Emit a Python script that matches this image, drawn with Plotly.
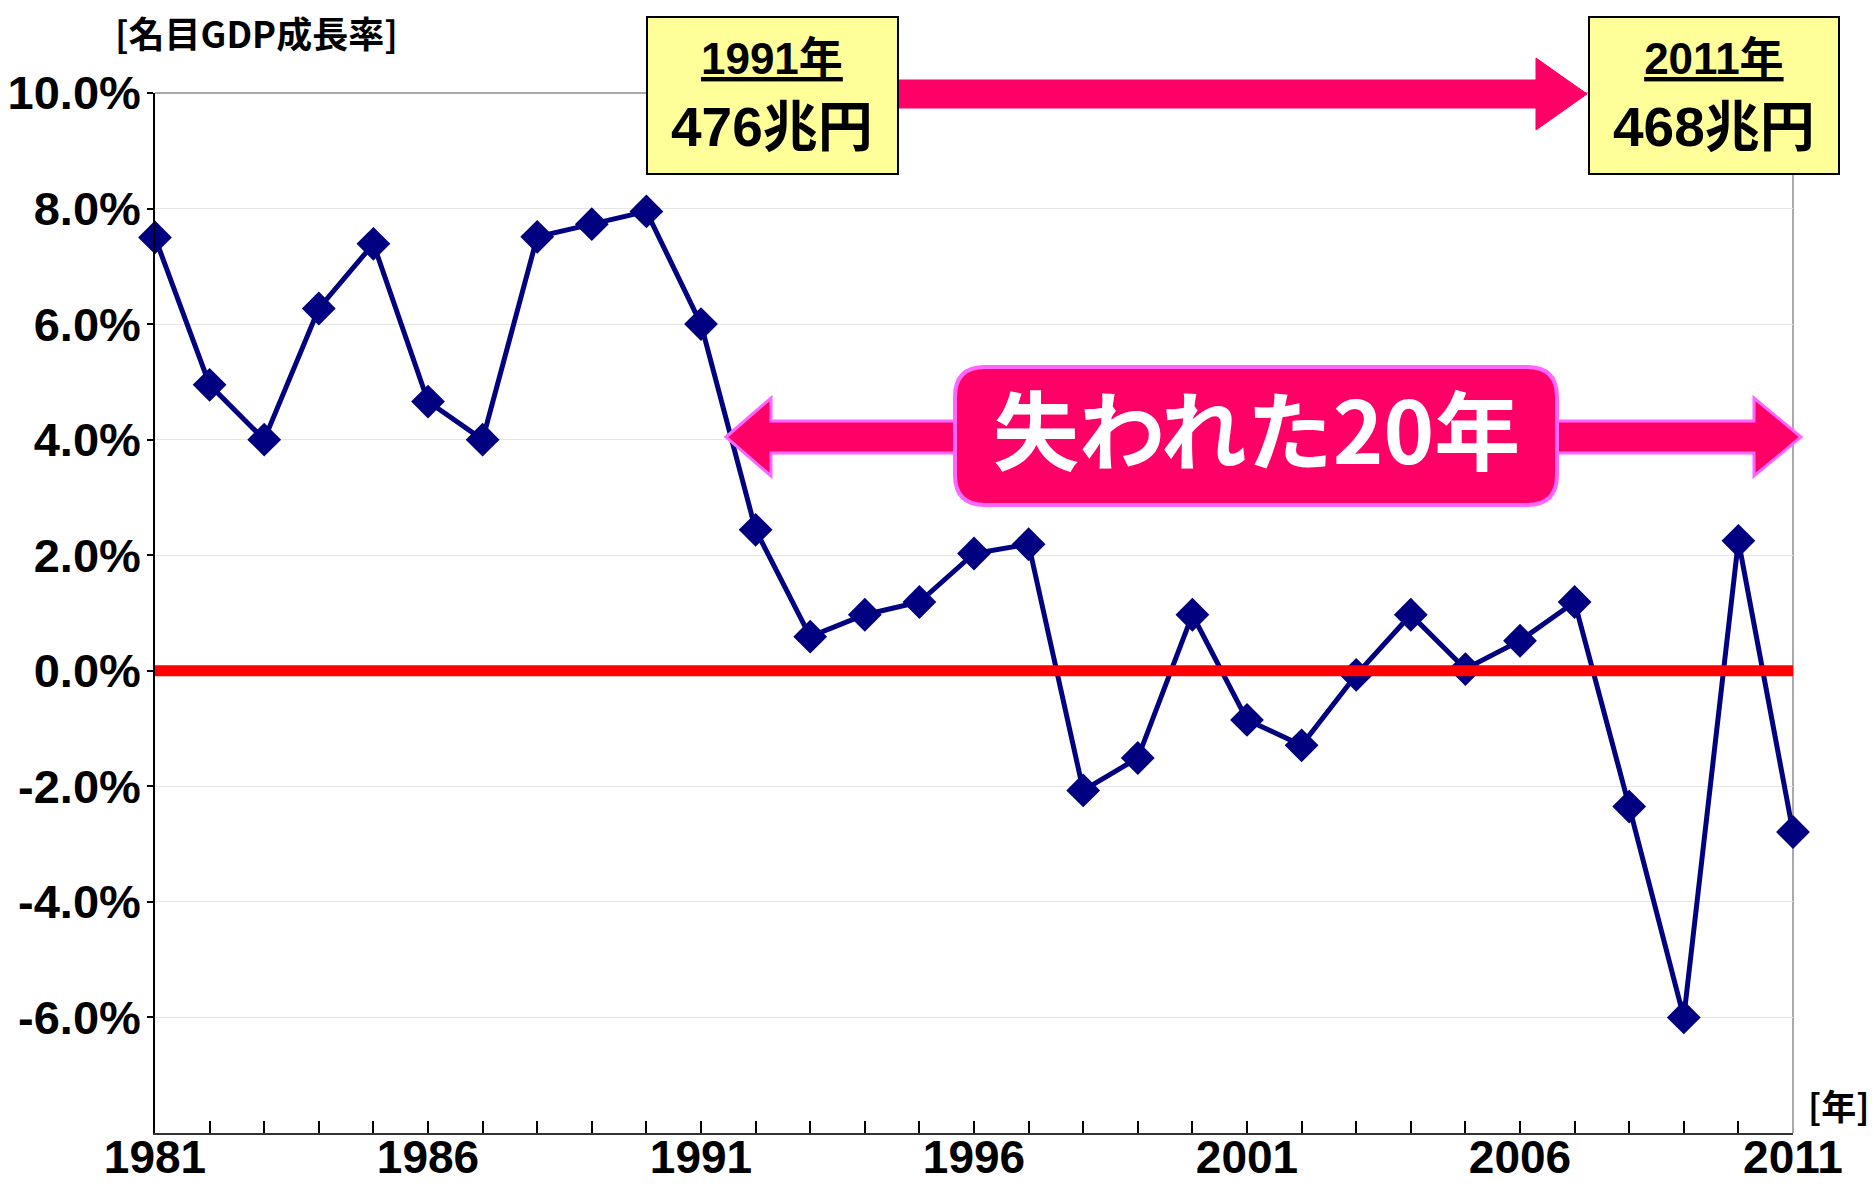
import plotly.graph_objects as go

# ---- data ----
years = list(range(1981, 2012))
growth = [7.5, 4.95, 4.0, 6.27, 7.39, 4.66, 4.0, 7.51, 7.73, 7.95,
          6.0, 2.44, 0.59, 0.97, 1.19, 2.03, 2.19, -2.07, -1.51, 0.97,
          -0.85, -1.29, -0.07, 0.97, 0.03, 0.52, 1.19, -2.35, -6.0, 2.25,
          -2.79]
zero_x = [1981, 2011]
zero_y = [0, 0]
x_label_years = [1981, 1986, 1991, 1996, 2001, 2006, 2011]
y_tick_vals = [-6, -4, -2, 0, 2, 4, 6, 8, 10]
y_tick_text = ["-6.0%", "-4.0%", "-2.0%", "0.0%", "2.0%", "4.0%", "6.0%", "8.0%", "10.0%"]
start_label = ("1991年", "476兆円")
end_label = ("2011年", "468兆円")
lost_label = "失われた20年"
y_title = "[名目GDP成長率]"
x_title = "[年]"

W, H = 1874, 1186
L, R, T, B = 155, 1793, 93, 1133

def px(x):
    return (x - L) / (R - L)

def py(y):
    return (B - y) / (B - T)

NUM = "Liberation Sans, Arial, sans-serif"
CJK = "Liberation Sans, Noto Sans CJK JP, sans-serif"
JP = "Noto Sans CJK JP, sans-serif"

fig = go.Figure()
fig.add_trace(go.Scatter(
    x=years, y=growth, mode="lines+markers",
    line=dict(color="#000080", width=5),
    marker=dict(symbol="diamond", size=26, color="#000080"),
    cliponaxis=False, showlegend=False, hoverinfo="skip"))
fig.add_trace(go.Scatter(
    x=zero_x, y=zero_y, mode="lines",
    line=dict(color="#ff0000", width=11),
    cliponaxis=False, showlegend=False, hoverinfo="skip"))

shapes = []
shapes.append(dict(type="line", xref="paper", yref="paper", x0=0, x1=1, y0=1, y1=1,
                   line=dict(color="#8c8c8c", width=1.5), layer="below"))
shapes.append(dict(type="line", xref="paper", yref="paper", x0=1, x1=1, y0=0, y1=1,
                   line=dict(color="#8c8c8c", width=1.5), layer="below"))

def P(x, y):
    return f"{px(x):.5f},{py(y):.5f}"

top_arrow = ("M" + P(898, 80) + " L" + P(1536, 80) + " L" + P(1536, 58) +
             " L" + P(1587, 94) + " L" + P(1536, 130) + " L" + P(1536, 108) +
             " L" + P(898, 108) + " Z")
shapes.append(dict(type="path", xref="paper", yref="paper", path=top_arrow,
                   fillcolor="#ff0066", line=dict(color="#ff0066", width=1)))

cy = 437
dbl = ("M" + P(726, cy) + " L" + P(771, 398) + " L" + P(771, 421) +
       " L" + P(1754, 421) + " L" + P(1754, 398) + " L" + P(1801, cy) +
       " L" + P(1754, 476) + " L" + P(1754, 453) + " L" + P(771, 453) +
       " L" + P(771, 476) + " Z")
shapes.append(dict(type="path", xref="paper", yref="paper", path=dbl,
                   fillcolor="#ff0066", line=dict(color="#ff66ff", width=3)))

x0, x1, y0, y1, r = 955, 1557, 367, 505, 30
rr = ("M" + P(x0 + r, y0) + " L" + P(x1 - r, y0) + " Q" + P(x1, y0) + " " + P(x1, y0 + r) +
      " L" + P(x1, y1 - r) + " Q" + P(x1, y1) + " " + P(x1 - r, y1) +
      " L" + P(x0 + r, y1) + " Q" + P(x0, y1) + " " + P(x0, y1 - r) +
      " L" + P(x0, y0 + r) + " Q" + P(x0, y0) + " " + P(x0 + r, y0) + " Z")
shapes.append(dict(type="path", xref="paper", yref="paper", path=rr,
                   fillcolor="#ff0066", line=dict(color="#ff66ff", width=4)))

for bx0, bx1 in [(647, 898), (1589, 1839)]:
    shapes.append(dict(type="rect", xref="paper", yref="paper",
                       x0=px(bx0), x1=px(bx1), y0=py(174), y1=py(17),
                       fillcolor="#ffff99", line=dict(color="#000000", width=2)))

annotations = []
for cx, (yr, val) in [(772, start_label), (1714, end_label)]:
    annotations.append(dict(xref="paper", yref="paper", x=px(cx), y=py(96),
                            text="<span style='font-size:44px'><u>" + yr + "</u></span><br>" + val,
                            showarrow=False, xanchor="center", yanchor="middle",
                            font=dict(family=CJK, size=55, color="#000", weight=700)))

annotations.append(dict(xref="paper", yref="paper", x=px(1256), y=py(427),
                        text=lost_label, showarrow=False, xanchor="center", yanchor="middle",
                        font=dict(family=JP, size=86, color="#ffffff", weight=700)))
annotations.append(dict(xref="paper", yref="paper", x=px(113), y=py(32),
                        text=y_title, showarrow=False, xanchor="left", yanchor="middle",
                        font=dict(family=JP, size=36, color="#000", weight=700)))
annotations.append(dict(xref="paper", yref="paper", x=px(1806), y=py(1104),
                        text=x_title, showarrow=False, xanchor="left", yanchor="middle",
                        font=dict(family=JP, size=35, color="#000", weight=700)))

fig.update_layout(
    width=W, height=H, autosize=False,
    margin=dict(l=L, r=W - R, t=T, b=H - B, pad=0),
    paper_bgcolor="white", plot_bgcolor="white",
    shapes=shapes, annotations=annotations,
    xaxis=dict(range=[1981, 2011], tickvals=years,
               ticktext=[str(y) if y in x_label_years else "" for y in years],
               ticks="inside", ticklen=12, tickwidth=1.5, tickcolor="#000",
               showline=True, linecolor="#333333", linewidth=2,
               showgrid=False, zeroline=False, automargin=False,
               ticklabelstandoff=-17,
               tickfont=dict(family=NUM, size=46, color="#000", weight=700)),
    yaxis=dict(range=[-8, 10], tickvals=y_tick_vals, ticktext=y_tick_text,
               ticks="outside", ticklen=6, tickwidth=1.5, tickcolor="#000",
               showline=True, linecolor="#000", linewidth=1.5,
               showgrid=True, gridcolor="#e6e6e6", gridwidth=1, zeroline=False,
               automargin=False, ticklabelstandoff=-3,
               tickfont=dict(family=NUM, size=47, color="#000", weight=700)),
)

fig.write_html("out.html", config={"displayModeBar": False},
               post_script="document.body.style.margin='0';document.body.style.overflow='hidden';")
